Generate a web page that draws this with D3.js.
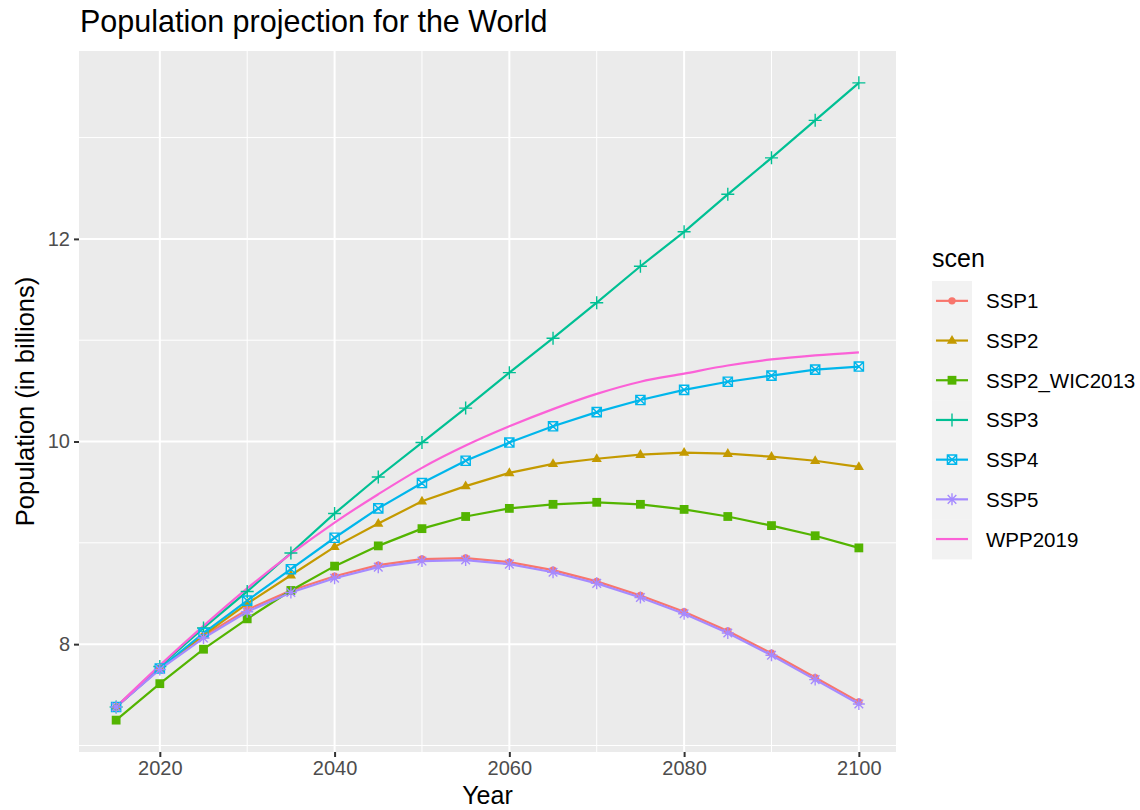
<!DOCTYPE html>
<html><head><meta charset="utf-8">
<script src="https://cdn.jsdelivr.net/npm/d3@7"></script>
<style>
body{margin:0;background:#fff;}
text{font-family:"Liberation Sans",Arial,sans-serif;}
</style></head>
<body><svg id="chart" width="1140" height="810"></svg>
<script>
const years = [2015,2020,2025,2030,2035,2040,2045,2050,2055,2060,2065,2070,2075,2080,2085,2090,2095,2100];
const scenarios = ["SSP1","SSP2","SSP2_WIC2013","SSP3","SSP4","SSP5","WPP2019"];
const ssp1 = [7.38,7.76,8.08,8.34,8.53,8.67,8.78,8.84,8.85,8.81,8.73,8.62,8.48,8.32,8.13,7.91,7.67,7.43];
const ssp2 = [7.38,7.76,8.09,8.40,8.68,8.96,9.19,9.41,9.56,9.69,9.78,9.83,9.87,9.89,9.88,9.85,9.81,9.75];
const ssp2wic = [7.25,7.61,7.95,8.25,8.53,8.77,8.97,9.14,9.26,9.34,9.38,9.40,9.38,9.33,9.26,9.17,9.07,8.95];
const ssp3 = [7.38,7.78,8.16,8.52,8.90,9.29,9.65,9.99,10.33,10.68,11.02,11.37,11.73,12.07,12.44,12.80,13.17,13.54];
const ssp4 = [7.38,7.76,8.11,8.43,8.74,9.05,9.34,9.59,9.81,9.99,10.15,10.29,10.41,10.51,10.59,10.65,10.71,10.74];
const ssp5 = [7.38,7.75,8.06,8.32,8.51,8.65,8.76,8.82,8.83,8.79,8.71,8.60,8.46,8.30,8.11,7.89,7.65,7.41];
const wpp2019 = [7.38,7.79,8.18,8.55,8.89,9.20,9.48,9.74,9.96,10.15,10.32,10.47,10.59,10.67,10.75,10.81,10.85,10.88];
const xTicks = [2020,2040,2060,2080,2100];
const yTicks = [8,10,12];
const colors = ["#F8766D","#C49A00","#53B400","#00C094","#00B6EB","#A58AFF","#FB61D7"];
const shapes = ["circle","triangle","square","plus","squarex","asterisk",null];

const seriesValues = [ssp1,ssp2,ssp2wic,ssp3,ssp4,ssp5,wpp2019];
const series = scenarios.map((s,i)=>({name:s,color:colors[i],shape:shapes[i],
  values:years.map((y,j)=>({year:y,v:seriesValues[i][j]}))}));

const svg = d3.select("#chart");
const P = {left:79, right:896, top:51, bottom:752};

const xExt = d3.extent(years), xPad = (xExt[1]-xExt[0])*0.05;
const allV = seriesValues.flat();
const yExt = d3.extent(allV), yPad = (yExt[1]-yExt[0])*0.05;
const x = d3.scaleLinear().domain([xExt[0]-xPad,xExt[1]+xPad]).range([P.left,P.right]);
const y = d3.scaleLinear().domain([yExt[0]-yPad,yExt[1]+yPad]).range([P.bottom,P.top]);

// panel
svg.append("rect").attr("x",P.left).attr("y",P.top).attr("width",P.right-P.left).attr("height",P.bottom-P.top).attr("fill","#EBEBEB");
const g = svg.append("g");
const xMinor = [2010,2030,2050,2070,2090,2110].filter(v=>v>=x.domain()[0]&&v<=x.domain()[1]);
const yMinor = [7,9,11,13];
g.selectAll(".xmin").data(xMinor).enter().append("line").attr("x1",d=>x(d)).attr("x2",d=>x(d)).attr("y1",P.top).attr("y2",P.bottom).attr("stroke","#fff").attr("stroke-width",1);
g.selectAll(".ymin").data(yMinor).enter().append("line").attr("y1",d=>y(d)).attr("y2",d=>y(d)).attr("x1",P.left).attr("x2",P.right).attr("stroke","#fff").attr("stroke-width",1);
g.selectAll(".xmaj").data(xTicks).enter().append("line").attr("x1",d=>x(d)).attr("x2",d=>x(d)).attr("y1",P.top).attr("y2",P.bottom).attr("stroke","#fff").attr("stroke-width",2);
g.selectAll(".ymaj").data(yTicks).enter().append("line").attr("y1",d=>y(d)).attr("y2",d=>y(d)).attr("x1",P.left).attr("x2",P.right).attr("stroke","#fff").attr("stroke-width",2);

// axes
const xAxis = d3.axisBottom(x).tickValues(xTicks).tickFormat(d3.format("d")).tickSize(5).tickPadding(4);
const yAxis = d3.axisLeft(y).tickValues(yTicks).tickFormat(d3.format("d")).tickSize(5).tickPadding(4);
const xa = svg.append("g").attr("transform",`translate(0,${P.bottom})`).call(xAxis);
const ya = svg.append("g").attr("transform",`translate(${P.left},0)`).call(yAxis);
[xa,ya].forEach(a=>{
  a.select(".domain").remove();
  a.selectAll(".tick line").attr("stroke","#333333").attr("stroke-width",2);
  a.selectAll(".tick text").attr("fill","#4D4D4D").style("font-size","20px").style("font-family","'Liberation Sans',Arial,sans-serif");
});

// lines
const line = d3.line().x(d=>x(d.year)).y(d=>y(d.v));
const lineSmooth = d3.line().x(d=>x(d.year)).y(d=>y(d.v)).curve(d3.curveMonotoneX);
svg.append("g").selectAll("path").data(series).enter().append("path")
  .attr("d",d=>d.shape?line(d.values):lineSmooth(d.values))
  .attr("fill","none").attr("stroke",d=>d.color).attr("stroke-width",2.2);

function drawShape(sel, shape, color){
  if(shape==="circle") sel.append("circle").attr("r",3.7).attr("fill",color);
  else if(shape==="triangle") sel.append("path").attr("d","M0,-5.6L5.1,3.2L-5.1,3.2Z").attr("fill",color);
  else if(shape==="square") sel.append("rect").attr("x",-4.4).attr("y",-4.4).attr("width",8.8).attr("height",8.8).attr("fill",color);
  else if(shape==="plus") sel.append("path").attr("d","M-6.5,0H6.5M0,-6.5V6.5").attr("stroke",color).attr("stroke-width",1.4).attr("fill","none");
  else if(shape==="squarex") sel.append("path").attr("d","M-4.6,-4.6H4.6V4.6H-4.6ZM-4.6,-4.6L4.6,4.6M4.6,-4.6L-4.6,4.6").attr("stroke",color).attr("stroke-width",1.4).attr("fill","none");
  else if(shape==="asterisk") sel.append("path").attr("d","M-6,0H6M0,-6V6M-4.3,-4.3L4.3,4.3M4.3,-4.3L-4.3,4.3").attr("stroke",color).attr("stroke-width",1.4).attr("fill","none");
}
series.filter(s=>s.shape).forEach(s=>{
  const pg = svg.append("g");
  s.values.forEach(d=>{
    const m = pg.append("g").attr("transform",`translate(${x(d.year)},${y(d.v)})`);
    drawShape(m,s.shape,s.color);
  });
});

// title & axis titles
svg.append("text").attr("x",80).attr("y",32).text("Population projection for the World").style("font-size","30.5px").attr("fill","#000");
svg.append("text").attr("x",(P.left+P.right)/2).attr("y",804).attr("text-anchor","middle").text("Year").style("font-size","25px").attr("fill","#000");
svg.append("text").attr("transform",`translate(34,${(P.top+P.bottom)/2}) rotate(-90)`).attr("text-anchor","middle").text("Population (in billions)").style("font-size","25.5px").attr("fill","#000");

// legend
const L = {x:932, y:281, key:40, row:39.7};
svg.append("text").attr("x",932).attr("y",267).text("scen").style("font-size","25px").attr("fill","#000");
series.forEach((s,i)=>{
  const cy = L.y + i*L.row;
  svg.append("rect").attr("x",L.x).attr("y",cy).attr("width",L.key).attr("height",L.row+0.5).attr("fill","#F2F2F2");
});
series.forEach((s,i)=>{
  const cy = L.y + i*L.row + L.row/2;
  svg.append("line").attr("x1",L.x+4).attr("x2",L.x+L.key-4).attr("y1",cy).attr("y2",cy).attr("stroke",s.color).attr("stroke-width",2.2);
  if(s.shape){ const m = svg.append("g").attr("transform",`translate(${L.x+L.key/2},${cy})`); drawShape(m,s.shape,s.color); }
  svg.append("text").attr("x",986).attr("y",cy+7.5).text(s.name).style("font-size","20.5px").attr("fill","#000");
});
</script></body></html>
